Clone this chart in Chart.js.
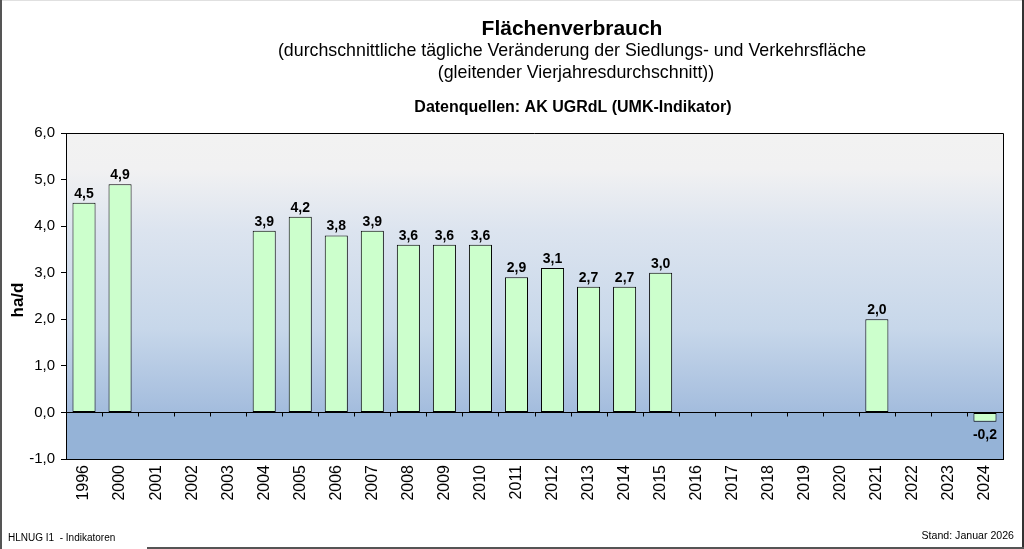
<meta charset="UTF-8">
<title>Flächenverbrauch</title>
<script src="https://cdn.jsdelivr.net/npm/chart.js"></script>
<style>
  body { margin: 0; background: #fff; }
  #wrap { width: 1024px; height: 549px; position: relative; }
</style>
<div id="wrap"><canvas id="flaecheChart"></canvas></div>
<script>
// Jahre und Werte (ha/d), Lücken = keine Daten
var years = ['1996', '2000', '2001', '2002', '2003', '2004', '2005', '2006', '2007', '2008', '2009',
    '2010', '2011', '2012', '2013', '2014', '2015', '2016', '2017', '2018', '2019', '2020',
    '2021', '2022', '2023', '2024'];
var values = [4.5, 4.9, null, null, null, 3.9, 4.2, 3.8, 3.9, 3.6, 3.6,
    3.6, 2.9, 3.1, 2.7, 2.7, 3.0, null, null, null, null, null,
    2.0, null, null, -0.2];
var yTicks = [-1, 0, 1, 2, 3, 4, 5, 6];

var FONT = '"Liberation Sans", Arial, sans-serif';

function fmt(v){
    return v.toFixed(1).replace('.', ',');
}

var backgroundPlugin = {
    id: 'plotBackground',
    beforeDraw: function(chart){
        var ctx = chart.ctx, a = chart.chartArea;
        var zero = chart.scales.y.getPixelForValue(0);
        var g = ctx.createLinearGradient(0, a.top, 0, zero);
        g.addColorStop(0, '#f2f2f2');
        g.addColorStop(0.13, '#f1f1f2');
        g.addColorStop(0.35, '#dce4ef');
        g.addColorStop(0.7, '#c7d7ea');
        g.addColorStop(1, '#a3bcdd');
        ctx.save();
        ctx.fillStyle = g;
        ctx.fillRect(a.left, a.top, a.right - a.left, zero - a.top);
        ctx.fillStyle = '#95b3d7';
        ctx.fillRect(a.left, zero, a.right - a.left, a.bottom - zero);
        ctx.restore();
    }
};

var overlayPlugin = {
    id: 'overlay',
    afterDatasetsDraw: function(chart){
        var ctx = chart.ctx, a = chart.chartArea;
        var x = chart.scales.x, y = chart.scales.y;
        var zero = Math.round(y.getPixelForValue(0)) + 0.5;
        ctx.save();
        // Nulllinie und Teilstriche
        ctx.strokeStyle = '#000';
        ctx.lineWidth = 1;
        ctx.beginPath();
        ctx.moveTo(a.left, zero);
        ctx.lineTo(a.right, zero);
        for (var i = 1; i < years.length; i++) {
            var px = Math.round((x.getPixelForValue(i - 1) + x.getPixelForValue(i)) / 2) + 0.5;
            ctx.moveTo(px, zero);
            ctx.lineTo(px, zero + 4);
        }
        ctx.stroke();
        // Rahmen oben / rechts
        ctx.beginPath();
        ctx.moveTo(a.left, a.top + 0.5);
        ctx.lineTo(a.right + 0.5, a.top + 0.5);
        ctx.lineTo(a.right + 0.5, a.bottom);
        ctx.stroke();

        // Werte an den Balken
        ctx.fillStyle = '#000';
        ctx.font = 'bold 14px ' + FONT;
        ctx.textAlign = 'center';
        var meta = chart.getDatasetMeta(0);
        meta.data.forEach(function(bar, idx){
            var v = values[idx];
            if (v === null) return;
            if (v >= 0) {
                ctx.textBaseline = 'alphabetic';
                ctx.fillText(fmt(v), bar.x, bar.y - 5);
            } else {
                ctx.textBaseline = 'top';
                ctx.fillText(fmt(v), bar.x, bar.y + 6);
            }
        });
        ctx.restore();
    },
    afterDraw: function(chart){
        var ctx = chart.ctx;
        ctx.save();
        ctx.fillStyle = '#000';
        ctx.textAlign = 'center';
        ctx.textBaseline = 'alphabetic';
        ctx.font = 'bold 21px ' + FONT;
        ctx.fillText('Flächenverbrauch', 572, 35);
        ctx.font = '17.8px ' + FONT;
        ctx.fillText('(durchschnittliche tägliche Veränderung der Siedlungs- und Verkehrsfläche', 572, 56);
        ctx.fillText('(gleitender Vierjahresdurchschnitt))', 576, 78);
        ctx.font = 'bold 16px ' + FONT;
        ctx.fillText('Datenquellen: AK UGRdL (UMK-Indikator)', 573, 112);

        // Achsentitel
        ctx.save();
        ctx.translate(23, 300);
        ctx.rotate(-Math.PI / 2);
        ctx.font = 'bold 17px ' + FONT;
        ctx.fillText('ha/d', 0, 0);
        ctx.restore();

        ctx.textAlign = 'left';
        ctx.font = '10px ' + FONT;
        ctx.fillText('HLNUG I1  - Indikatoren', 8, 541);
        ctx.textAlign = 'right';
        ctx.font = '10.6px ' + FONT;
        ctx.fillText('Stand: Januar 2026', 1014, 539);

        // äußerer Rahmen
        ctx.fillStyle = '#e0e0e0';
        ctx.fillRect(0, 0, 1024, 1);
        ctx.fillStyle = '#555';
        ctx.fillRect(0, 0, 2, 549);
        ctx.fillStyle = '#333';
        ctx.fillRect(1022, 0, 2, 549);
        ctx.fillStyle = '#555';
        ctx.fillRect(147, 547, 877, 2);
        ctx.restore();
    }
};

var chart = new Chart(document.getElementById('flaecheChart').getContext('2d'), {
    type: 'bar',
    data: {
        labels: years,
        datasets: [{
            data: values,
            backgroundColor: '#ccffcc',
            borderColor: '#000',
            borderWidth: 1,
            borderSkipped: false,
            barPercentage: 0.64,
            categoryPercentage: 1
        }]
    },
    options: {
        responsive: true,
        maintainAspectRatio: false,
        animation: false,
        devicePixelRatio: 1,
        layout: {
            padding: { top: 133, left: 0, right: 21, bottom: 0 }
        },
        plugins: {
            legend: { display: false },
            title: { display: false },
            tooltip: { enabled: false }
        },
        scales: {
            x: {
                grid: { display: false, drawTicks: false },
                border: { display: true, color: '#000', width: 1 },
                ticks: {
                    color: '#000',
                    font: { family: FONT, size: 16 },
                    minRotation: 90,
                    maxRotation: 90,
                    padding: 6,
                    autoSkip: false
                },
                afterFit: function(scale){ scale.height = 90; }
            },
            y: {
                min: -1,
                max: 6,
                afterBuildTicks: function(scale){
                    scale.ticks = yTicks.map(function(v){ return { value: v }; });
                },
                grid: { drawOnChartArea: false, drawTicks: true, tickLength: 5, color: '#000' },
                border: { display: true, color: '#000', width: 1 },
                ticks: {
                    color: '#000',
                    font: { family: FONT, size: 15 },
                    padding: 6,
                    callback: function(v){ return fmt(v); }
                },
                afterFit: function(scale){ scale.width = 66; }
            }
        }
    },
    plugins: [backgroundPlugin, overlayPlugin]
});
</script>
